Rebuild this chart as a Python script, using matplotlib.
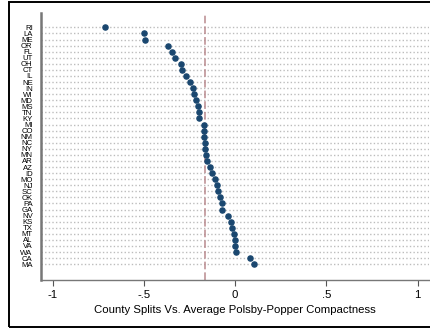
import matplotlib
matplotlib.use("Agg")
import matplotlib.pyplot as plt
from matplotlib.patches import Rectangle

plt.rcParams['font.family'] = ['Liberation Sans', 'DejaVu Sans']

states = ['RI', 'LA', 'ME', 'OR', 'FL', 'UT', 'OH', 'CT', 'IL', 'NE',
          'IN', 'WI', 'MD', 'MS', 'TN', 'KY', 'MI', 'CO', 'NM', 'NC',
          'NY', 'MN', 'AR', 'AZ', 'ID', 'MO', 'NJ', 'SC', 'OK', 'PA',
          'GA', 'NV', 'KS', 'TX', 'MT', 'AL', 'VA', 'WA', 'CA', 'MA']
valores = [-0.712, -0.502, -0.493, -0.369, -0.345, -0.332, -0.296, -0.292, -0.272, -0.247,
           -0.230, -0.226, -0.215, -0.203, -0.199, -0.197, -0.172, -0.170, -0.170, -0.166,
           -0.164, -0.159, -0.155, -0.138, -0.127, -0.112, -0.099, -0.096, -0.085, -0.074,
           -0.072, -0.037, -0.022, -0.020, -0.005, -0.002, 0.000, 0.002, 0.082, 0.102]
ortalama = -0.166
x_ticks = [-1, -0.5, 0, 0.5, 1]
x_tick_labels = ['-1', '-.5', '0', '.5', '1']

fig = plt.figure(figsize=(4.31, 3.28), dpi=100)
ax = fig.add_axes([41 / 431, 48 / 328, 388 / 431, 267 / 328])

pos = list(range(len(states)))
ax.hlines(pos, -1.064, 1.062, colors='#bdbdbd', linestyles=(0, (1, 1.6)), linewidth=1.0, zorder=1)
ax.axvline(ortalama, color='#b98a8e', linestyle=(0, (5, 2)), linewidth=1.1, zorder=2)
ax.plot(valores, pos, 'o', color='#1a476f', markersize=3.7, zorder=3)

ax.set_xlim(-1.064, 1.062)
ax.set_ylim(41.6, -2.37)
ax.set_yticks(pos)
ax.set_yticklabels(states, fontsize=5.6)
ax.tick_params(axis='y', length=0, pad=6)
ax.set_xticks(x_ticks)
ax.set_xticklabels(x_tick_labels, fontsize=8.2)
ax.tick_params(axis='x', length=4, width=0.8, color='#555555', pad=3)
ax.set_xlabel('County Splits Vs. Average Polsby-Popper Compactness', fontsize=8.2, labelpad=4)

for s in ['top', 'right']:
    ax.spines[s].set_visible(False)
ax.spines['left'].set_color('#777777')
ax.spines['left'].set_linewidth(1.8)
ax.spines['bottom'].set_color('#777777')
ax.spines['bottom'].set_linewidth(1.0)

fig.patches.append(Rectangle((9 / 431, 1 / 328), 1.0, 325 / 328, transform=fig.transFigure,
                             fill=False, edgecolor='black', linewidth=1.4))

fig.savefig('out.png', dpi=100)
